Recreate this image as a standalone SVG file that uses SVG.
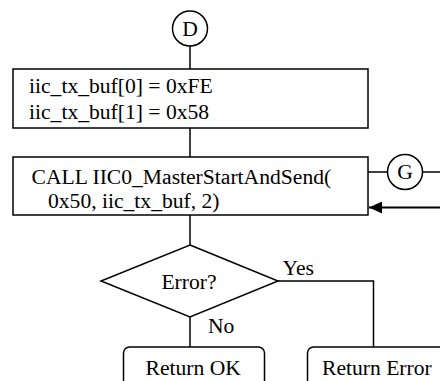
<svg xmlns="http://www.w3.org/2000/svg" width="440" height="381" viewBox="0 0 440 381">
  <style>
    .shape { fill: #fff; stroke: #000; stroke-width: 1.5; }
    .line { fill: none; stroke: #000; stroke-width: 1.5; }
    .thick { fill: none; stroke: #000; stroke-width: 2; }
    text { font-family: "Liberation Serif", "Times New Roman", serif; font-size: 21.6px; fill: #000; }
    .mid { text-anchor: middle; }
  </style>
  <defs>
    <marker id="arrow" markerWidth="14" markerHeight="12" refX="13" refY="6" orient="auto" markerUnits="userSpaceOnUse">
      <path d="M0,0 L13,6 L0,12 Z" fill="#000"/>
    </marker>
  </defs>
  <rect width="440" height="381" fill="#fff"/>

  <g id="connectors">
    <line class="line" x1="190" y1="46" x2="190" y2="69"/>
    <line class="line" x1="190" y1="128" x2="190" y2="157"/>
    <line class="line" x1="190" y1="215" x2="190" y2="245"/>
    <line class="line" x1="368" y1="172" x2="388" y2="172"/>
    <line class="line" x1="422" y1="172" x2="440" y2="172"/>
    <line class="thick" x1="440" y1="207.5" x2="369" y2="207.5" marker-end="url(#arrow)"/>
    <line class="line" x1="190" y1="317" x2="190" y2="347"/>
    <polyline class="line" points="278,281 373.5,281 373.5,347"/>
  </g>

  <g id="connector-d">
    <circle class="shape" cx="190" cy="28.5" r="17.5"/>
    <text class="mid" x="190" y="36">D</text>
  </g>

  <g id="init-buffer">
    <rect class="shape" x="13" y="69" width="355" height="59"/>
    <text x="29" y="93">iic_tx_buf[0] = 0xFE</text>
    <text x="29" y="119">iic_tx_buf[1] = 0x58</text>
  </g>

  <g id="call-send">
    <rect class="shape" x="13" y="157" width="355" height="58"/>
    <text x="31.5" y="184">CALL IIC0_MasterStartAndSend(</text>
    <text x="48" y="208">0x50, iic_tx_buf, 2)</text>
  </g>

  <g id="connector-g">
    <circle class="shape" cx="405" cy="172" r="17.5"/>
    <text class="mid" x="405" y="179">G</text>
  </g>

  <g id="error-check">
    <polygon class="shape" points="190,245 278,281 190,317 101,281"/>
    <text class="mid" x="189" y="289">Error?</text>
    <text x="282.5" y="275">Yes</text>
    <text x="208" y="333">No</text>
  </g>

  <g id="return-ok">
    <rect class="shape" x="123.5" y="347" width="141" height="50" rx="6"/>
    <text x="145.5" y="375">Return OK</text>
  </g>

  <g id="return-error">
    <rect class="shape" x="307.5" y="347" width="150" height="50" rx="6"/>
    <text x="322" y="375">Return Error</text>
  </g>
</svg>
